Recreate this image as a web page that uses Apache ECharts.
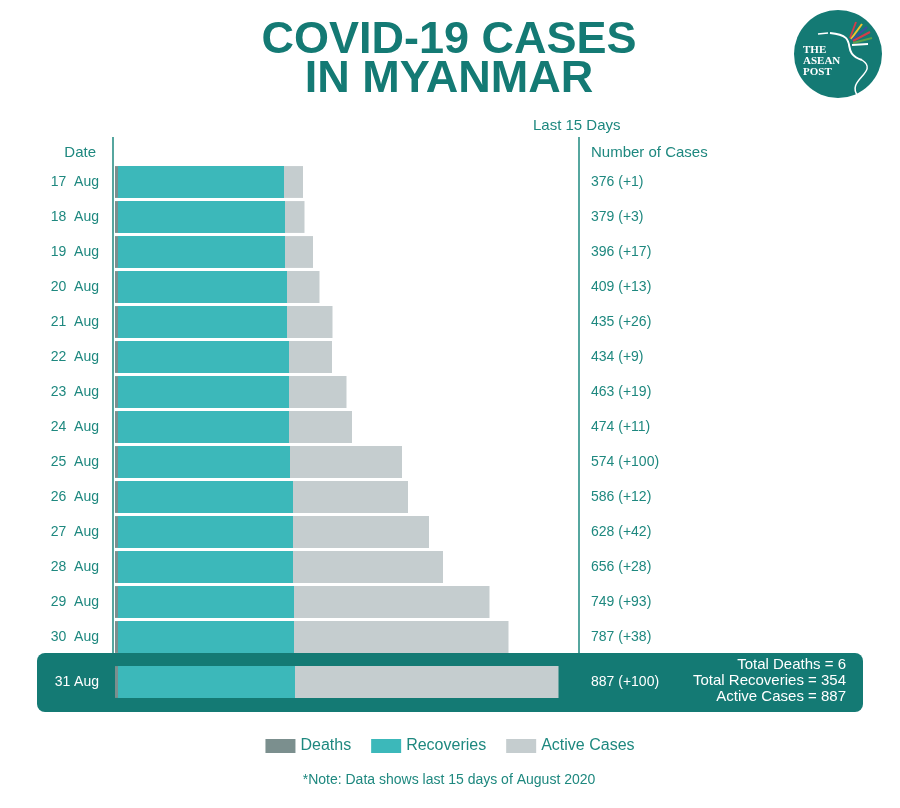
<!DOCTYPE html>
<html>
<head>
<meta charset="utf-8">
<script src="https://cdn.jsdelivr.net/npm/echarts@6/dist/echarts.min.js"></script>
<style>html,body{margin:0;padding:0;background:#fff}#c{width:900px;height:808px}</style>
</head>
<body>
<div id="c"></div>
<script>
// ---- data ----
const dates = ['17  Aug','18  Aug','19  Aug','20  Aug','21  Aug','22  Aug','23  Aug','24  Aug','25  Aug','26  Aug','27  Aug','28  Aug','29  Aug','30  Aug','31 Aug'];
const totalCases = [376,379,396,409,435,434,463,474,574,586,628,656,749,787,887];
const newCases =   [1,3,17,13,26,9,19,11,100,12,42,28,93,38,100];
const deaths =     [6,6,6,6,6,6,6,6,6,6,6,6,6,6,6];
const recoveries = [332,334,334,338,338,342,342,342,344,350,350,350,352,352,354];
const seriesNames = ['Deaths','Recoveries','Active Cases'];

const active = totalCases.map((t,i)=>t-deaths[i]-recoveries[i]);
const caseLabels = totalCases.map((t,i)=>t+' (+'+newCases[i]+')');

const TEAL_TXT = '#1e887f';
const DARK = '#147a74';
const COLORS = ['#7b8f8e','#3cb8ba','#c5cdcf'];
const FONT = 'Liberation Sans, Arial, sans-serif';

const n = dates.length;
const mainIdx = dates.slice(0, n-1).map((_,i)=>i);

function mkSeries(gi, idxs) {
  const vals = [deaths, recoveries, active];
  return seriesNames.map((nm,k)=>({
    name: nm, type:'bar', stack:'s'+gi, xAxisIndex:gi, yAxisIndex:gi*2,
    barCategoryGap:'9%', itemStyle:{color:COLORS[k]},
    data: idxs.map(i=>vals[k][i]), silent:true, animation:false
  }));
}

const chart = echarts.init(document.getElementById('c'), null, {renderer:'canvas'});
const gridCommon = {left:115, right:321};
const option = {
  animation:false,
  textStyle:{fontFamily:FONT},
  color:COLORS,
  legend:{
    data:seriesNames, top:733, left:'center', itemWidth:30, itemHeight:14, itemGap:20,
    icon:'rect', textStyle:{fontSize:16, color:TEAL_TXT, fontFamily:FONT}, selectedMode:false
  },
  grid:[
    Object.assign({top:164.5, height:490}, gridCommon),
    Object.assign({top:664.5, height:35}, gridCommon)
  ],
  xAxis:[
    {type:'value', gridIndex:0, min:0, max:928, show:false},
    {type:'value', gridIndex:1, min:0, max:928, show:false}
  ],
  yAxis:[
    {type:'category', gridIndex:0, inverse:true, data:mainIdx.map(i=>dates[i]),
     axisLine:{show:false}, axisTick:{show:false},
     axisLabel:{margin:16, fontSize:14, color:TEAL_TXT, fontFamily:FONT}},
    {type:'category', gridIndex:0, inverse:true, position:'right', data:mainIdx.map(i=>caseLabels[i]),
     axisLine:{show:false}, axisTick:{show:false},
     axisLabel:{margin:12, fontSize:14, color:TEAL_TXT, fontFamily:FONT}},
    {type:'category', gridIndex:1, inverse:true, data:[dates[n-1]],
     axisLine:{show:false}, axisTick:{show:false},
     axisLabel:{margin:16, fontSize:14, color:'#ffffff', fontFamily:FONT}},
    {type:'category', gridIndex:1, inverse:true, position:'right', data:[caseLabels[n-1]],
     axisLine:{show:false}, axisTick:{show:false},
     axisLabel:{margin:12, fontSize:14, color:'#ffffff', fontFamily:FONT}}
  ],
  series: mkSeries(0, mainIdx).concat(mkSeries(1, [n-1])),
  graphic:[
    {type:'rect', z:-10, shape:{x:37, y:653, width:826, height:59, r:8}, style:{fill:DARK}},
    {type:'line', shape:{x1:113, y1:137, x2:113, y2:653}, style:{stroke:TEAL_TXT, lineWidth:1.5}},
    {type:'line', shape:{x1:579, y1:137, x2:579, y2:653}, style:{stroke:TEAL_TXT, lineWidth:1.5}},
    {type:'text', x:449, y:41, style:{text:'COVID-19 CASES', fill:DARK, font:'bold 45px '+FONT, textAlign:'center', textVerticalAlign:'middle'}},
    {type:'text', x:449, y:80, style:{text:'IN MYANMAR', fill:DARK, font:'bold 45px '+FONT, textAlign:'center', textVerticalAlign:'middle'}},
    {type:'text', x:96, y:153, style:{text:'Date', fill:TEAL_TXT, font:'15px '+FONT, textAlign:'right', textVerticalAlign:'middle'}},
    {type:'text', x:591, y:153, style:{text:'Number of Cases', fill:TEAL_TXT, font:'15px '+FONT, textAlign:'left', textVerticalAlign:'middle'}},
    {type:'text', x:533, y:126, style:{text:'Last 15 Days', fill:TEAL_TXT, font:'15px '+FONT, textAlign:'left', textVerticalAlign:'middle'}},
    {type:'text', x:846, y:665, style:{text:'Total Deaths = 6', fill:'#fff', font:'15px '+FONT, textAlign:'right', textVerticalAlign:'middle'}},
    {type:'text', x:846, y:681, style:{text:'Total Recoveries = 354', fill:'#fff', font:'15px '+FONT, textAlign:'right', textVerticalAlign:'middle'}},
    {type:'text', x:846, y:697, style:{text:'Active Cases = 887', fill:'#fff', font:'15px '+FONT, textAlign:'right', textVerticalAlign:'middle'}},
    {type:'text', x:449, y:780, style:{text:'*Note: Data shows last 15 days of August 2020', fill:TEAL_TXT, font:'14px '+FONT, textAlign:'center', textVerticalAlign:'middle'}},
    // logo
    {type:'circle', shape:{cx:838, cy:54, r:44}, style:{fill:DARK}},
    {type:'text', x:803, y:50, style:{text:'THE', fill:'#fff', font:'bold 11px Liberation Serif, serif', textVerticalAlign:'middle'}},
    {type:'text', x:803, y:61, style:{text:'ASEAN', fill:'#fff', font:'bold 11px Liberation Serif, serif', textVerticalAlign:'middle'}},
    {type:'text', x:803, y:72, style:{text:'POST', fill:'#fff', font:'bold 11px Liberation Serif, serif', textVerticalAlign:'middle'}},
    {type:'bezierCurve', shape:{x1:830, y1:33, x2:862, y2:60, cpx1:862, cpy1:36, cpx2:838, cpy2:52}, style:{stroke:'#fff', lineWidth:2, fill:null}},
    {type:'bezierCurve', shape:{x1:862, y1:60, x2:858, y2:96, cpx1:880, cpy1:72, cpx2:845, cpy2:80}, style:{stroke:'#fff', lineWidth:1.5, fill:null}},
    {type:'line', shape:{x1:828, y1:33, x2:818, y2:34}, style:{stroke:'#fff', lineWidth:1.5}},
    {type:'line', shape:{x1:850, y1:38, x2:856, y2:22}, style:{stroke:'#d23c4a', lineWidth:2}},
    {type:'line', shape:{x1:851, y1:39, x2:862, y2:24}, style:{stroke:'#f0c330', lineWidth:2}},
    {type:'line', shape:{x1:852, y1:40, x2:867, y2:27}, style:{stroke:'#3a4fa0', lineWidth:2}},
    {type:'line', shape:{x1:853, y1:41, x2:870, y2:32}, style:{stroke:'#d23c4a', lineWidth:2}},
    {type:'line', shape:{x1:853, y1:43, x2:872, y2:38}, style:{stroke:'#5aa04a', lineWidth:2}},
    {type:'line', shape:{x1:852, y1:45, x2:868, y2:44}, style:{stroke:'#ffffff', lineWidth:2}}
  ]
};
chart.setOption(option);
</script>
</body>
</html>
